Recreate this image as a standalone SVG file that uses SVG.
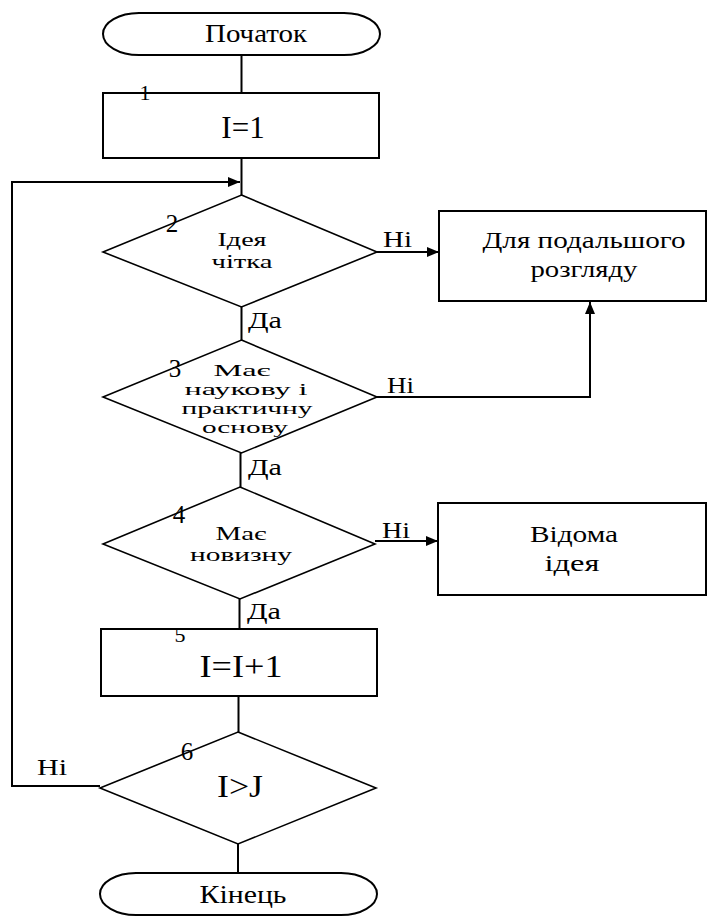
<svg xmlns="http://www.w3.org/2000/svg" width="707" height="917" viewBox="0 0 707 917">
<style>
.s{fill:none;stroke:#000;stroke-width:2}
.d{fill:none;stroke:#000;stroke-width:1.6}
.c{fill:none;stroke:#000;stroke-width:2}
text{font-family:"Liberation Serif","DejaVu Serif",serif;fill:#000}
.m{text-anchor:middle}
.l{font-size:24px}
</style>
<defs>
<marker id="ah" viewBox="0 0 12 10" refX="12" refY="5" markerWidth="12" markerHeight="10" markerUnits="userSpaceOnUse" orient="auto">
<path d="M0,0 L12,5 L0,10 Z" fill="#000"/>
</marker>
</defs>
<rect width="707" height="917" fill="#fff"/>
<g id="connectors">
<line class="c" x1="241.5" y1="55" x2="241.5" y2="93"/>
<line class="c" x1="241.5" y1="158" x2="241.5" y2="195"/>
<line class="c" x1="241.5" y1="307" x2="241.5" y2="340"/>
<line class="c" x1="240.5" y1="453" x2="240.5" y2="487"/>
<line class="c" x1="239.5" y1="599" x2="239.5" y2="629"/>
<line class="c" x1="238.5" y1="696" x2="238.5" y2="732"/>
<line class="c" x1="238" y1="844" x2="238" y2="873"/>
<line class="c" x1="377" y1="252" x2="439" y2="252" marker-end="url(#ah)"/>
<polyline class="c" points="377,397 590,397 590,302" marker-end="url(#ah)"/>
<line class="c" x1="375" y1="541" x2="438" y2="541" marker-end="url(#ah)"/>
<polyline class="c" points="100,786 12,786 12,182 240,182" marker-end="url(#ah)"/>
<text class="l" x="383" y="247" textLength="29" lengthAdjust="spacingAndGlyphs">Ні</text>
<text class="l" x="387" y="393" textLength="27" lengthAdjust="spacingAndGlyphs">Ні</text>
<text class="l" x="382" y="538" textLength="28" lengthAdjust="spacingAndGlyphs">Ні</text>
<text class="l" x="37" y="775" textLength="30" lengthAdjust="spacingAndGlyphs">Ні</text>
<text class="l" x="248" y="328" textLength="34" lengthAdjust="spacingAndGlyphs">Да</text>
<text class="l" x="248" y="475" textLength="34" lengthAdjust="spacingAndGlyphs">Да</text>
<text class="l" x="247" y="619" textLength="34" lengthAdjust="spacingAndGlyphs">Да</text>
</g>
<g id="start">
<rect class="s" x="103" y="13" width="277" height="42" rx="36" ry="21"/>
<text x="256" y="42" font-size="25" class="m" textLength="102" lengthAdjust="spacingAndGlyphs">Початок</text>
</g>
<g id="n1">
<rect class="s" x="103" y="93" width="276" height="65"/>
<text x="145" y="100" font-size="22" class="m">1</text>
<text x="243" y="138" font-size="31" class="m">I=1</text>
</g>
<g id="n2">
<polygon class="d" points="241.5,195 377,252 241.5,307 103,252"/>
<text x="172" y="232" font-size="25" class="m">2</text>
<text x="242" y="246" font-size="19" class="m" textLength="49" lengthAdjust="spacingAndGlyphs">Ідея</text>
<text x="242" y="268" font-size="19" class="m" textLength="61" lengthAdjust="spacingAndGlyphs">чітка</text>
</g>
<g id="review">
<rect class="s" x="439" y="211" width="267" height="90"/>
<text x="584" y="248" font-size="24" class="m" textLength="203" lengthAdjust="spacingAndGlyphs">Для подальшого</text>
<text x="584" y="277" font-size="24" class="m" textLength="107" lengthAdjust="spacingAndGlyphs">розгляду</text>
</g>
<g id="n3">
<polygon class="d" points="241.5,340 377,397 241.5,453 103,397"/>
<text x="175" y="377" font-size="25" class="m">3</text>
<text x="242" y="376" font-size="16" class="m" textLength="57" lengthAdjust="spacingAndGlyphs">Має</text>
<text x="246" y="395" font-size="16" class="m" textLength="123" lengthAdjust="spacingAndGlyphs">наукову і</text>
<text x="247" y="414" font-size="16" class="m" textLength="131" lengthAdjust="spacingAndGlyphs">практичну</text>
<text x="245" y="433" font-size="16" class="m" textLength="86" lengthAdjust="spacingAndGlyphs">основу</text>
</g>
<g id="n4">
<polygon class="d" points="240,487 375,544 240,599 103,544"/>
<text x="179" y="523" font-size="25" class="m">4</text>
<text x="241" y="540" font-size="18" class="m" textLength="51" lengthAdjust="spacingAndGlyphs">Має</text>
<text x="241" y="561" font-size="18" class="m" textLength="102" lengthAdjust="spacingAndGlyphs">новизну</text>
</g>
<g id="known">
<rect class="s" x="438" y="503" width="268" height="92"/>
<text x="574" y="542" font-size="24" class="m" textLength="88" lengthAdjust="spacingAndGlyphs">Відома</text>
<text x="572" y="571" font-size="24" class="m" textLength="55" lengthAdjust="spacingAndGlyphs">ідея</text>
</g>
<g id="n5">
<rect class="s" x="101" y="629" width="276" height="67"/>
<text x="180" y="642" font-size="22" class="m">5</text>
<text x="241" y="677" font-size="31" class="m" textLength="83" lengthAdjust="spacingAndGlyphs">I=I+1</text>
</g>
<g id="n6">
<polygon class="d" points="238,732 376,788 238,844 100,788"/>
<text x="187" y="760" font-size="25" class="m">6</text>
<text x="240" y="797" font-size="31" class="m" textLength="46" lengthAdjust="spacingAndGlyphs">I&gt;J</text>
</g>
<g id="end">
<rect class="s" x="100" y="873" width="277" height="42" rx="36" ry="21"/>
<text x="243" y="903" font-size="25" class="m" textLength="87" lengthAdjust="spacingAndGlyphs">Кінець</text>
</g>
</svg>
